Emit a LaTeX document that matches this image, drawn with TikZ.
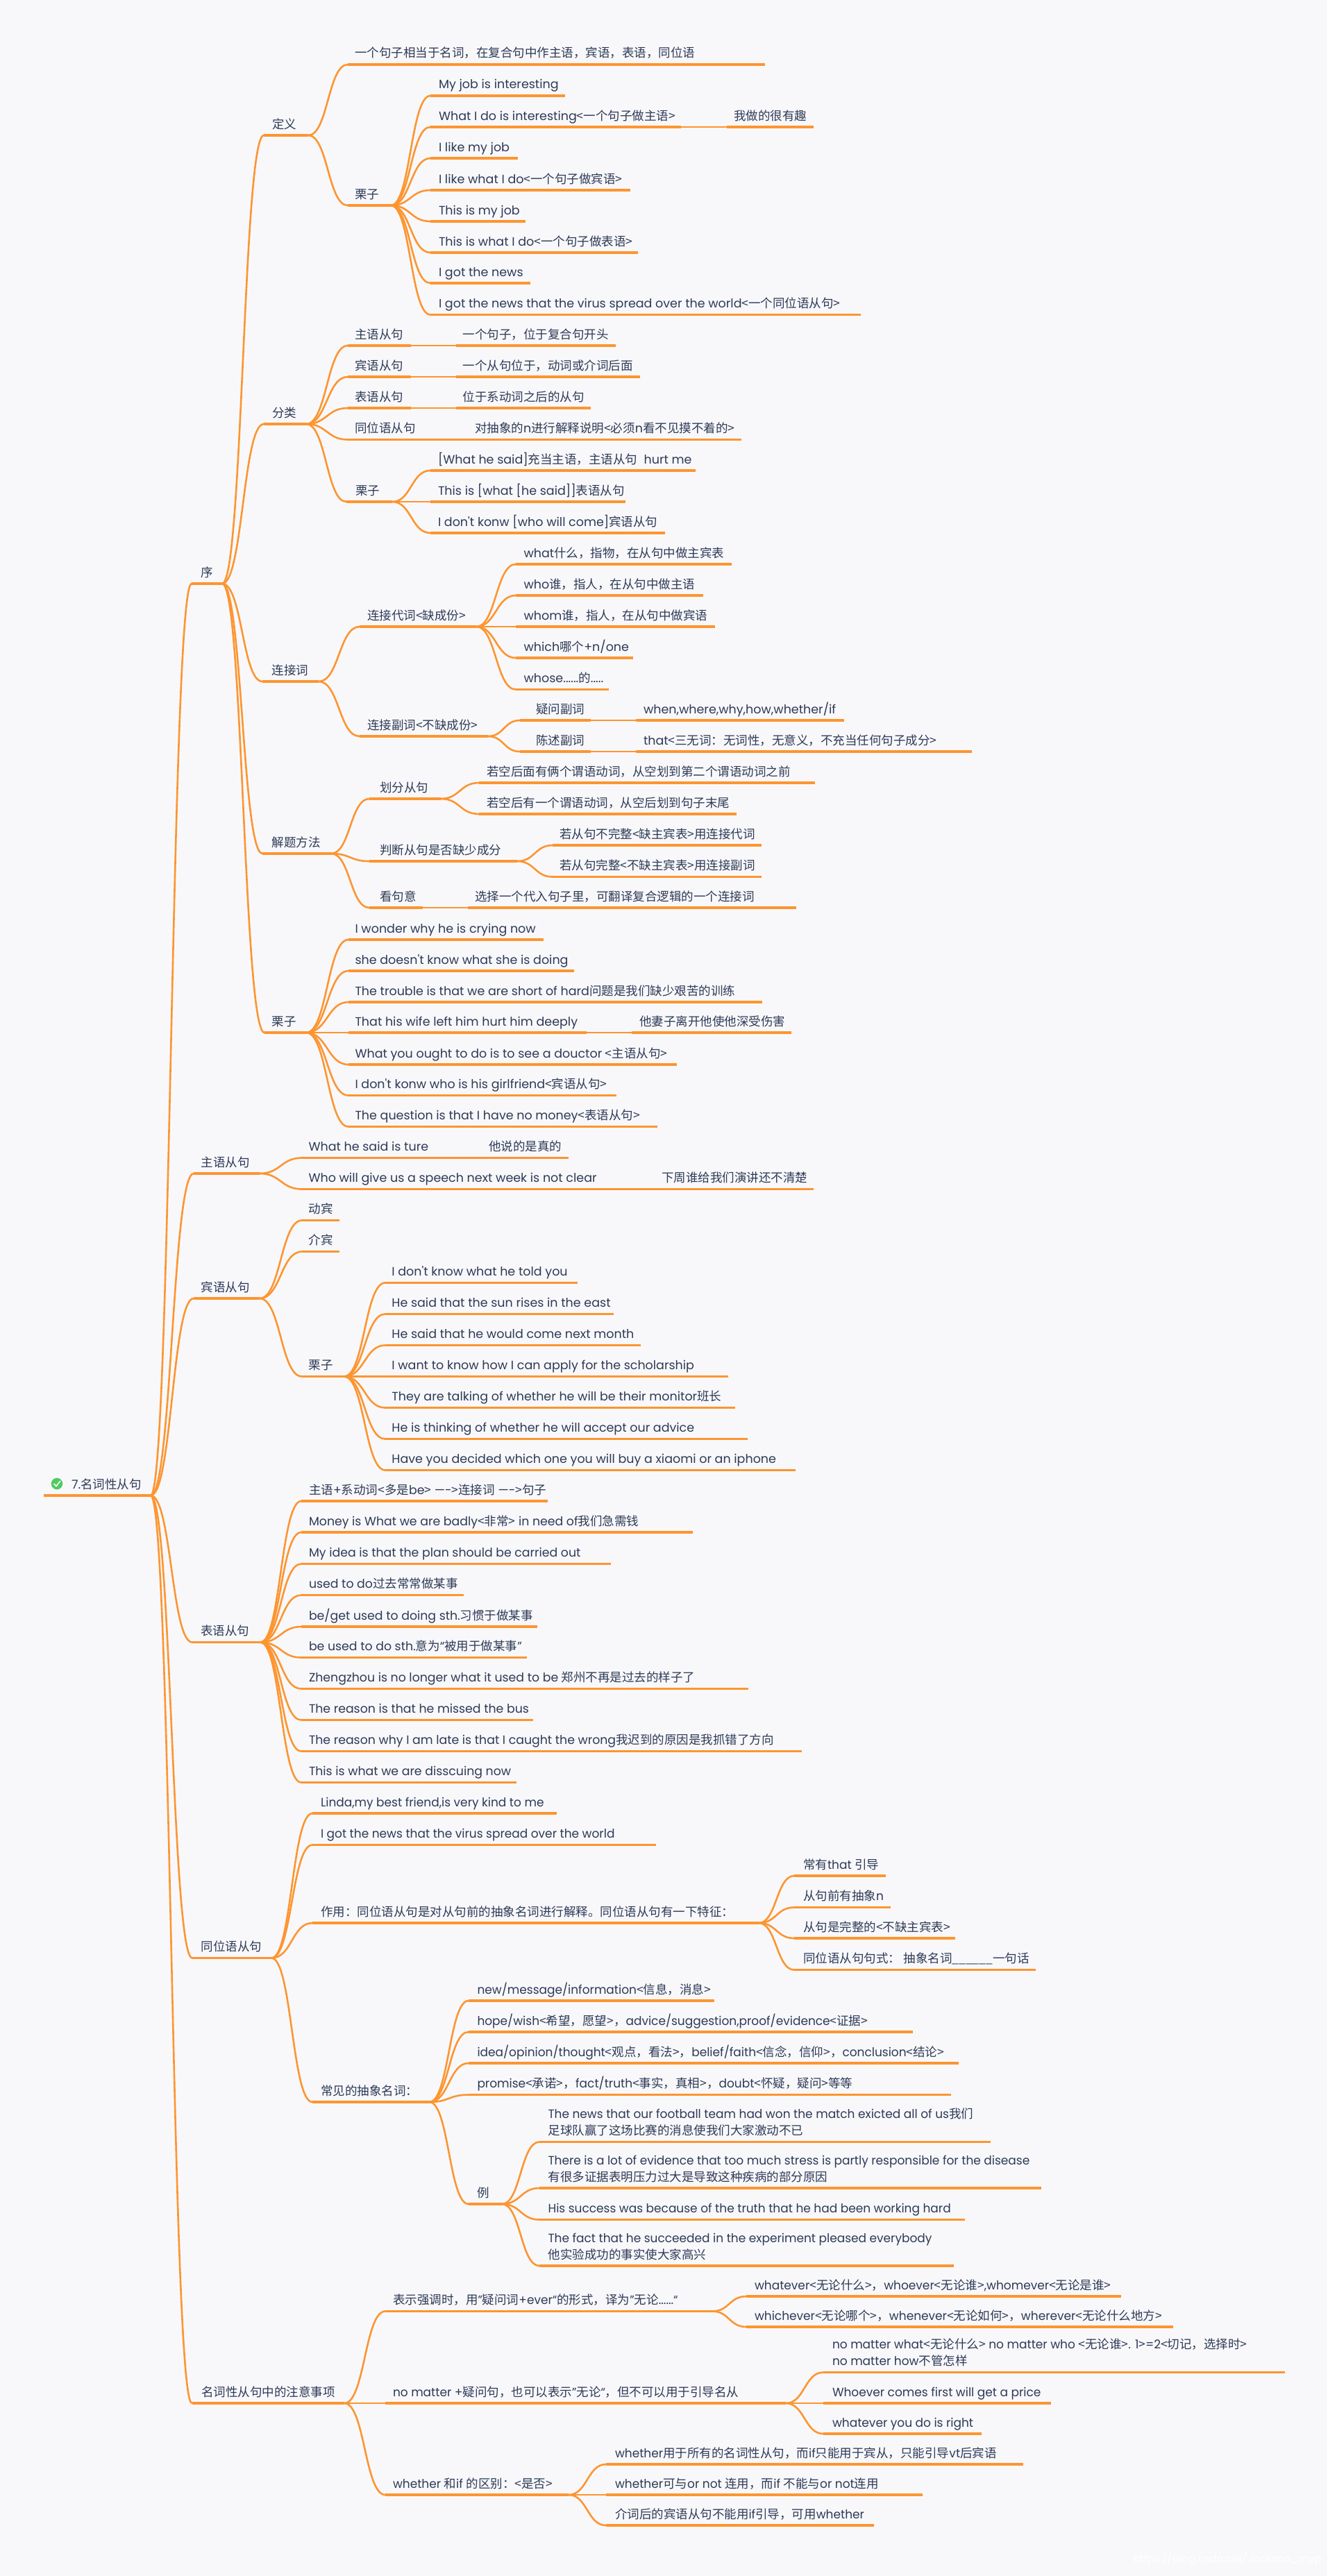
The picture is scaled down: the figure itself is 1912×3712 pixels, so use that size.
\documentclass[tikz,border=0pt]{standalone}
\usepackage{fontspec}
\usetikzlibrary{calc}
\setmainfont{Poppins}
\newfontfamily\latf{Poppins}
\newfontfamily\latm[FakeStretch=0.99]{Poppins}
\newfontfamily\latn[FakeStretch=0.97]{Poppins}
\newfontfamily\cjkf{Noto Sans CJK SC}
\def\curlat{\latf}
\XeTeXinterchartokenstate=1
\newXeTeXintercharclass\cjkcls
\count255="4E00
\loop\XeTeXcharclass\count255=\cjkcls\ifnum\count255<"9FFF\advance\count255 by 1\repeat
\count255="3000
\loop\XeTeXcharclass\count255=\cjkcls\ifnum\count255<"303F\advance\count255 by 1\repeat
\count255="FF00
\loop\XeTeXcharclass\count255=\cjkcls\ifnum\count255<"FFEF\advance\count255 by 1\repeat
\XeTeXcharclass`<=\cjkcls \XeTeXcharclass`>=\cjkcls
\XeTeXcharclass"201C=0 \XeTeXcharclass"201D=0 \XeTeXcharclass"2014=0
\XeTeXinterchartoks 0 \cjkcls={\cjkf}
\XeTeXinterchartoks \cjkcls 0={\curlat}
\XeTeXinterchartoks 4095 \cjkcls={\cjkf}
\XeTeXinterchartoks \cjkcls 4095={\curlat}
\definecolor{bgc}{HTML}{F8F8FB}
\definecolor{org}{HTML}{FD9530}
\definecolor{lit}{HTML}{FBD3AE}
\definecolor{ink}{HTML}{2D3A55}
\definecolor{tickc}{HTML}{4FCB62}
\tikzset{
 topic/.style={anchor=south west,inner sep=0pt,outer sep=0pt,text=ink,text depth=10pt,font=\curlat\fontsize{17.5}{24}\selectfont},
 under/.style={draw=org,line width=3.2pt},
 cv/.style={draw=org,line width=2.6pt},
 sl/.style={draw=org,line width=2.4pt,yshift=-0.4pt},
 slhi/.style={draw=lit,line width=1pt,yshift=1.6pt}
}
% name, left, text x, right, y, text
\newcommand\tn[6]{\pgfmathsetmacro{\wdA}{#4-#2}\pgfmathsetmacro{\wdB}{#3-#2}%
 \node[topic] (#1) at (#2,#5) {\makebox[\wdA pt][l]{\hspace{\wdB pt}#6}};
 \draw[under] (#1.south west) -- (#1.south east);}
\newcommand\tl[6]{\pgfmathsetmacro{\wdA}{#4-#2}\pgfmathsetmacro{\wdB}{#3-#2}%
 \node[topic] (#1) at (#2,#5) {\makebox[\wdA pt][l]{\hspace{\wdB pt}\begin{tabular}[b]{@{}l@{}}#6\end{tabular}}};
 \draw[under] (#1.south west) -- (#1.south east);}
\newcommand\cu[2]{\draw[cv] let \p1=(#1.south east),\p2=(#2.south west),\n1={\x1+.5*(\x2-\x1)} in (\p1) .. controls (\n1,\y1) and (\n1,\y2) .. (\p2);}
\newcommand\sr[2]{\draw[slhi] (#1.south east) -- (#2.south west);\draw[sl] (#1.south east) -- (#2.south west);}
\begin{document}
\begin{tikzpicture}[x=1pt,y=-1pt]
\fill[bgc] (0,0) rectangle (1912,3712);
\useasboundingbox (0,0) rectangle (1912,3712);
% root
\tn{root}{63}{103}{217}{2155}{7.名词性从句}
\node[circle,fill=tickc,draw=white,line width=1pt,minimum size=18pt,inner sep=0pt] (tick) at (82,2138) {};
\draw[white,line width=1.6pt] (77.5,2138) -- (81,2141.5) -- (87,2134);
% level 1
\tn{xu}{276}{289}{320}{841}{序}
\tn{zhu}{279}{289.5}{374}{1691}{主语从句}
\tn{bin}{279}{289.5}{374}{1871}{宾语从句}
\tn{biao}{277}{289}{375}{2366.5}{表语从句}
\tn{tong}{277}{289.5}{391}{2821.5}{同位语从句}
\tn{zhuyi}{276.5}{290}{496}{3463}{名词性从句中的注意事项}
\foreach \c in {xu,zhu,bin,biao,tong,zhuyi} {\cu{root}{\c}}
% xu children
\tn{dy}{380}{392}{444}{195}{定义}
\tn{fl}{380}{392}{441}{611}{分类}
\tn{lj}{378}{391.5}{459}{982}{连接词}
\tn{jt}{378}{391.5}{477}{1230}{解题方法}
\tn{lz}{381}{391.5}{441}{1488}{栗子}
\foreach \c in {dy,fl,lj,jt,lz} {\cu{xu}{\c}}
% dingyi
\tn{dya}{501}{511}{1102}{93}{一个句子相当于名词，在复合句中作主语，宾语，表语，同位语}
\tn{dyb}{501}{511}{563}{296}{栗子}
\cu{dy}{dya}\cu{dy}{dyb}
\tn{ea}{620}{632}{814}{138}{My job is interesting}
\tn{eb}{620}{632}{981}{183}{What I do is interesting<一个句子做主语>}
\tn{ebb}{1047}{1057}{1172}{183}{我做的很有趣}
\sr{eb}{ebb}
\tn{ec}{620}{632}{745.5}{228}{I like my job}
\tn{ed}{620}{632}{908}{274}{I like what I do<一个句子做宾语>}
\tn{ee}{620}{632}{757}{319}{This is my job}
\tn{ef}{620}{632}{919}{364}{This is what I do<一个句子做表语>}
\tn{eg}{620}{632}{764}{408}{I got the news}
\tn{eh}{620}{632}{1240}{453.5}{I got the news that the virus spread over the world<一个同位语从句>}
\foreach \c in {ea,eb,ec,ed,ee,ef,eg,eh} {\cu{dyb}{\c}}
% fenlei
\tn{fa}{501}{511}{591.5}{498}{主语从句}
\tn{faa}{657}{666.5}{887}{498}{一个句子，位于复合句开头}
\sr{fa}{faa}
\tn{fb}{501}{511}{591.5}{543}{宾语从句}
\tn{fbb}{657}{666.5}{922}{543}{一个从句位于，动词或介词后面}
\sr{fb}{fbb}
\tn{fc}{501}{511}{591.5}{588}{表语从句}
\tn{fcc}{657}{666.5}{851}{588}{位于系动词之后的从句}
\sr{fc}{fcc}
\tn{fd}{501}{511}{608}{633.5}{同位语从句}
\tn{fdd}{674}{684}{1068}{633.5}{对抽象的n进行解释说明<必须n看不见摸不着的>}
\sr{fd}{fdd}
\tn{fe}{499}{512}{565}{723}{栗子}
\foreach \c in {fa,fb,fc,fd,fe} {\cu{fl}{\c}}
\tn{fea}{620}{631}{1002}{678}{[What he said]充当主语，主语从句 \ hurt me}
\tn{feb}{620}{631}{900.5}{723}{This is [what [he said]]表语从句}
\tn{fec}{620}{631}{958}{768}{I don't konw [who will come]宾语从句}
\cu{fe}{fea}\sr{fe}{feb}\cu{fe}{fec}
% lianjieci
\tn{la}{518}{529}{686}{903}{连接代词<缺成份>}
\tn{lb}{518}{529}{703}{1061}{连接副词<不缺成份>}
\cu{lj}{la}\cu{lj}{lb}
\tn{laa}{743}{754.6}{1054}{813}{what什么，指物，在从句中做主宾表}
\tn{lab}{743}{754.6}{1013}{858}{who谁，指人，在从句中做主语}
\tn{lac}{743}{754.6}{1030}{903}{whom谁，指人，在从句中做宾语}
\tn{lad}{743}{754.6}{912}{948}{which哪个+n/one}
\tn{lae}{743}{754.6}{877}{993.5}{whose......的.....}
\cu{la}{laa}\cu{la}{lab}\sr{la}{lac}\cu{la}{lad}\cu{la}{lae}
\tn{lba}{749}{772}{851}{1038}{疑问副词}
\tn{lbaa}{916}{927}{1216}{1038}{when,where,why,how,whether/if}
\sr{lba}{lbaa}
\tn{lbb}{749}{772}{851}{1083}{陈述副词}
\tn{lbbb}{916}{927}{1400}{1083}{that<三无词：无词性，无意义，不充当任何句子成分>}
\sr{lbb}{lbbb}
\cu{lb}{lba}\cu{lb}{lbb}
% jieti
\tn{ja}{532}{547}{635}{1151}{划分从句}
\tn{jb}{532}{547}{745}{1241}{判断从句是否缺少成分}
\tn{jc}{532}{547}{609}{1308}{看句意}
\cu{jt}{ja}\cu{jt}{jb}\cu{jt}{jc}
\tn{jaa}{690}{701}{1174}{1128}{若空后面有俩个谓语动词，从空划到第二个谓语动词之前}
\tn{jab}{690}{701}{1061}{1173}{若空后有一个谓语动词，从空后划到句子末尾}
\cu{ja}{jaa}\cu{ja}{jab}
\tn{jba}{796}{806}{1097}{1218}{若从句不完整<缺主宾表>用连接代词}
\tn{jbb}{796}{806}{1097}{1263.5}{若从句完整<不缺主宾表>用连接副词}
\cu{jb}{jba}\cu{jb}{jbb}
\tn{jcc}{674}{684}{1147}{1308}{选择一个代入句子里，可翻译复合逻辑的一个连接词}
\sr{jc}{jcc}
% lizi
\tn{za}{502}{511.5}{782.5}{1354}{I wonder why he is crying now}
\tn{zb}{502}{511.5}{827}{1399}{she doesn't know what she is doing}
\tn{zc}{502}{511.5}{1098}{1444}{The trouble is that we are short of hard问题是我们缺少艰苦的训练}
\tn{zd}{502}{511.5}{845}{1488}{That his wife left him hurt him deeply}
\tn{zdd}{910}{921}{1140}{1488}{他妻子离开他使他深受伤害}
\sr{zd}{zdd}
\tn{ze}{502}{511.5}{974.5}{1534}{What you ought to do is to see a douctor <主语从句>}
\tn{zf}{502}{511.5}{888}{1578.5}{I don't konw who is his girlfriend<宾语从句>}
\tn{zg}{502}{511.5}{947}{1623.5}{The question is that I have no money<表语从句>}
\foreach \c in {za,zb,zc,ze,zf,zg} {\cu{lz}{\c}}
\sr{lz}{zd}
% zhuyu
\tn{ya}{435}{444.5}{629.5}{1668.5}{What he said is ture}
\tn{yaa}{693}{704}{819}{1668.5}{他说的是真的}
\sr{ya}{yaa}
\tn{yb}{435}{444.5}{876}{1713.5}{Who will give us a speech next week is not clear}
\tn{ybb}{942}{953}{1172}{1713.5}{下周谁给我们演讲还不清楚}
\sr{yb}{ybb}
\cu{zhu}{ya}\cu{zhu}{yb}
% binyu
\tn{ba}{435}{444.5}{489}{1758.5}{动宾}
\tn{bb}{435}{444.5}{489}{1803.5}{介宾}
\tn{bc}{435}{444.5}{495.5}{1983.5}{栗子}
\cu{bin}{ba}\cu{bin}{bb}\cu{bin}{bc}
\tn{bca}{555}{564.4}{832}{1848.5}{I don't know what he told you}
\tn{bcb}{555}{564.4}{884}{1893.5}{He said that the sun rises in the east}
\tn{bcc}{555}{564.4}{923}{1938.5}{He said that he would come next month}
\tn{bcd}{555}{564.4}{1049}{1983.5}{I want to know how I can apply for the scholarship}
\tn{bce}{555}{564.4}{1059}{2028.5}{They are talking of whether he will be their monitor班长}
\tn{bcf}{555}{564.4}{1076.5}{2073.5}{He is thinking of whether he will accept our advice}
\tn{bcg}{555}{564.4}{1145.5}{2118.5}{Have you decided which one you will buy a xiaomi or an iphone}
\foreach \c in {bca,bcb,bcc,bce,bcf,bcg} {\cu{bc}{\c}}
\sr{bc}{bcd}
% biaoyu
\def\curlat{\latm}
\tn{ta}{434}{445}{789}{2163}{主语+系动词<多是be> —->连接词 —->句子}
\tn{tb}{434}{445}{998}{2208}{Money is What we are badly<非常> in need of我们急需钱}
\tn{tc}{434}{445}{880}{2253.5}{My idea is that the plan should be carried out}
\tn{td}{434}{445}{668}{2298.5}{used to do过去常常做某事}
\tn{te}{434}{445}{774}{2344}{be/get used to doing sth.习惯于做某事}
\tn{tf}{434}{445}{758.5}{2388.5}{be used to do sth.意为“被用于做某事”}
\tn{tg}{434}{445}{1078}{2433.5}{Zhengzhou is no longer what it used to be 郑州不再是过去的样子了}
\tn{th}{434}{445}{768}{2478.5}{The reason is that he missed the bus}
\tn{ti}{434}{445}{1155}{2523.5}{The reason why I am late is that I caught the wrong我迟到的原因是我抓错了方向}
\tn{tj}{434}{445}{744}{2568.5}{This is what we are disscuing now}
\foreach \c in {ta,tb,tc,td,te,tf,tg,th,ti,tj} {\cu{biao}{\c}}
% tongwei
\def\curlat{\latn}
\tn{ua}{450}{462}{802}{2613}{Linda,my best friend,is very kind to me}
\tn{ub}{450}{462}{945}{2658.5}{I got the news that the virus spread over the world}
\tn{uc}{450}{462}{1093}{2771}{作用：同位语从句是对从句前的抽象名词进行解释。同位语从句有一下特征：}
\tn{ud}{450}{462}{618.5}{3029}{常见的抽象名词：}
\foreach \c in {ua,ub,uc,ud} {\cu{tong}{\c}}
\tn{uca}{1144}{1157}{1276}{2703}{常有that 引导}
\tn{ucb}{1144}{1157}{1283}{2748.5}{从句前有抽象n}
\tn{ucc}{1144}{1157}{1375.5}{2793}{从句是完整的<不缺主宾表>}
\tn{ucd}{1144}{1157}{1492}{2838.5}{同位语从句句式： 抽象名词{\cjkf\_\_\_\_\_\_}一句话}
\foreach \c in {uca,ucb,ucc,ucd} {\cu{uc}{\c}}
\tn{uda}{675}{687.5}{1029}{2883}{new/message/information<信息，消息>}
\tn{udb}{675}{687.5}{1314.5}{2928}{hope/wish<希望，愿望>，advice/suggestion,proof/evidence<证据>}
\tn{udc}{675}{687.5}{1381}{2973}{idea/opinion/thought<观点，看法>，belief/faith<信念，信仰>，conclusion<结论>}
\tn{udd}{675}{687.5}{1369.5}{3018.5}{promise<承诺>，fact/truth<事实，真相>，doubt<怀疑，疑问>等等}
\tn{ude}{675}{687.5}{723}{3176}{例}
\foreach \c in {uda,udb,udc,udd,ude} {\cu{ud}{\c}}
\tl{udea}{777}{789.5}{1427}{3086.5}{The news that our football team had won the match exicted all of us我们\\足球队赢了这场比赛的消息使我们大家激动不已}
\tl{udeb}{777}{789.5}{1500}{3153}{There is a lot of evidence that too much stress is partly responsible for the disease\\有很多证据表明压力过大是导致这种疾病的部分原因}
\tn{udec}{777}{789.5}{1390}{3198.5}{His success was because of the truth that he had been working hard}
\tl{uded}{777}{789.5}{1373.5}{3265}{The fact that he succeeded in the experiment pleased everybody\\他实验成功的事实使大家高兴}
\foreach \c in {udea,udeb,udec,uded} {\cu{ude}{\c}}
% zhuyi
\tn{va}{555}{566}{1026}{3330.5}{表示强调时，用”疑问词+ever“的形式，译为”无论......“}
\tn{vb}{555}{566}{1132}{3463}{no matter +疑问句，也可以表示”无论“，但不可以用于引导名从}
\tn{vc}{555}{566}{819}{3595}{whether 和if 的区别：<是否>}
\cu{zhuyi}{va}\sr{zhuyi}{vb}\cu{zhuyi}{vc}
\tn{vaa}{1075}{1087}{1615}{3309}{whatever<无论什么>，whoever<无论谁>,whomever<无论是谁>}
\tn{vab}{1075}{1087}{1689.5}{3353}{whichever<无论哪个>，whenever<无论如何>，wherever<无论什么地方>}
\cu{va}{vaa}\cu{va}{vab}
\tl{vba}{1186}{1199}{1850.5}{3418.5}{no matter what<无论什么> no matter who <无论谁>. 1>=2<切记，选择时>\\no matter how不管怎样}
\tn{vbb}{1186}{1199}{1513.5}{3463}{Whoever comes first will get a price}
\tn{vbc}{1186}{1199}{1414}{3507}{whatever you do is right}
\cu{vb}{vba}\sr{vb}{vbb}\cu{vb}{vbc}
\tn{vca}{873}{886}{1474}{3551}{whether用于所有的名词性从句，而if只能用于宾从，只能引导vt后宾语}
\tn{vcb}{873}{886}{1329}{3595}{whether可与or not 连用，而if 不能与or not连用}
\tn{vcc}{873}{886}{1259}{3639}{介词后的宾语从句不能用if引导，可用whether}
\cu{vc}{vca}\sr{vc}{vcb}\cu{vc}{vcc}
\node[anchor=base east,inner sep=0pt,text=white,font=\latf\fontsize{15}{18}\selectfont] (wm) at (1904,3692) {https://blog.csdn.net/Jackson\_mvp};
\end{tikzpicture}
\end{document}
